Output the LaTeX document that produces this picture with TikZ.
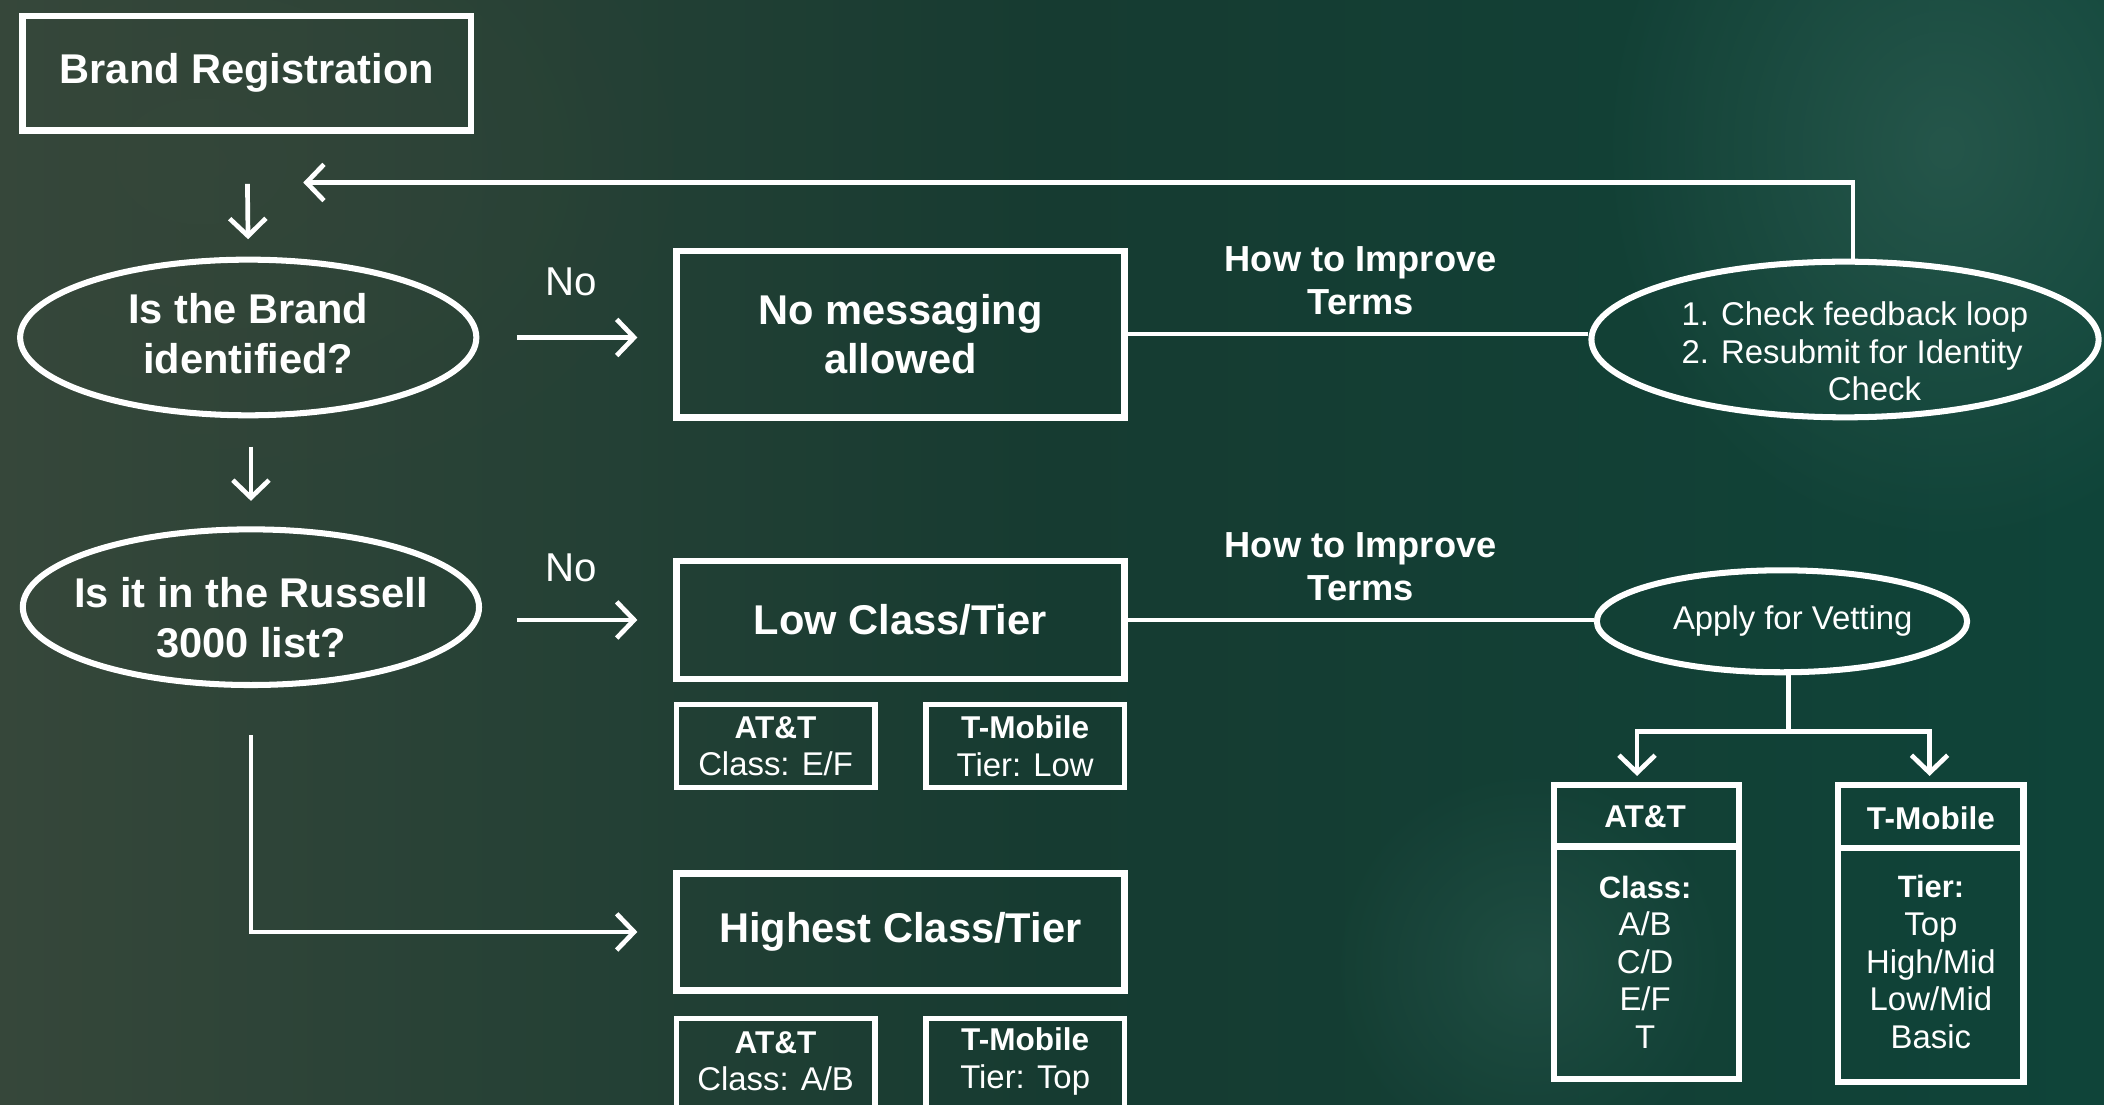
\documentclass[tikz,border=0pt]{standalone}
\usepackage{fontspec}
\setmainfont{Liberation Sans}
\usetikzlibrary{arrows.meta,shapes.geometric,fadings}
\definecolor{bgL}{HTML}{36473A}
\definecolor{bgM}{HTML}{163B31}
\definecolor{bgR}{HTML}{0F4439}
\definecolor{faceC}{HTML}{2E5E52}
\tikzfading[name=softblob, inner color=transparent!0, outer color=transparent!100]
\begin{document}
\begin{tikzpicture}[x=1pt,y=-1pt,
  box/.style={draw=white, line width=5pt, rectangle, inner sep=0pt, text=white, align=center,
              font=\bfseries\fontsize{31}{37}\selectfont},
  sbox/.style={draw=white, line width=4pt, rectangle, inner sep=0pt, text=white, align=center,
              minimum width=148pt, font=\fontsize{24.5}{28}\selectfont},
  tbox/.style={draw=white, line width=4.5pt, rectangle, inner sep=0pt, minimum width=138pt},
  ell/.style={draw=white, line width=4.5pt, ellipse, inner sep=0pt},
  bigtxt/.style={text=white, align=center, inner sep=0pt, font=\bfseries\fontsize{31}{37}\selectfont},
  regtxt/.style={text=white, align=center, inner sep=0pt, font=\fontsize{24.5}{28}\selectfont},
  lbl/.style={text=white, align=center, inner sep=0pt, font=\fontsize{30}{32}\selectfont},
  howlbl/.style={text=white, align=center, inner sep=0pt, font=\bfseries\fontsize{27}{32}\selectfont},
  conn/.style={draw=white, line width=3.5pt},
  arr/.style={-{Straight Barb[length=13pt,width=27pt]}},
]
\useasboundingbox (0,0) rectangle (1568,823);
\clip (0,0) rectangle (1568,823);
% background
\shade[left color=bgL, right color=bgR, middle color=bgM] (0,0) rectangle (1568,823);
\fill[faceC, opacity=0.7, path fading=softblob] (1450,110) ellipse [x radius=260, y radius=300];
\fill[faceC, opacity=0.45, path fading=softblob] (1140,720) ellipse [x radius=150, y radius=150];
\fill[bgL, opacity=0.6, path fading=softblob] (150,120) ellipse [x radius=380, y radius=280];

% top
\node[box, minimum width=334pt, minimum height=85pt] (brand) at (184,54.5) {Brand Registration};

\node[ell, minimum width=340pt, minimum height=116pt] (e1) at (185,251.5) {};
\node[bigtxt] (t1) at (185,248.5) {Is the Brand\\identified?};

\node[box, minimum width=334pt, minimum height=124pt] (nomsg) at (671,249) {No messaging\\allowed};

\node[ell, minimum width=378pt, minimum height=116pt] (e2) at (1375,253) {};
\node[regtxt, align=left, anchor=west] (t2) at (1253,262) {1. Check feedback loop\\2. Resubmit for Identity\\\hspace*{109pt}Check};

\node[howlbl] (how1) at (1014,209) {How to Improve\\Terms};
\node[lbl] (no1) at (426,210) {No};

\coordinate (loopEnd) at (226,136);

% middle
\node[ell, minimum width=340pt, minimum height=116pt] (e3) at (187,452.5) {};
\node[bigtxt] (t3) at (187,460.5) {Is it in the Russell\\3000 list?};

\node[box, minimum width=334pt, minimum height=88pt] (low) at (671,462) {Low Class/Tier};

\node[ell, minimum width=276pt, minimum height=76pt] (e4) at (1328,463) {};
\node[regtxt] (t4) at (1336,463) {Apply for Vetting};

\node[howlbl] (how2) at (1014,422) {How to Improve\\Terms};
\node[lbl] (no2) at (426,423) {No};

\node[sbox, minimum height=62pt] (lowatt) at (578,556) {{\bfseries\fontsize{23.5}{28}\selectfont AT\&T}\\Class: E/F};
\node[sbox, minimum height=62pt] (lowtm) at (764,556) {{\bfseries\fontsize{23.5}{28}\selectfont T-Mobile}\\Tier: Low};

% bottom
\node[box, minimum width=334pt, minimum height=87pt] (high) at (671,694.5) {Highest Class/Tier};
\node[sbox, minimum height=70pt] (hiatt) at (578,794) {};
\node[regtxt] (hiattT) at (578,791) {{\bfseries\fontsize{23.5}{28}\selectfont AT\&T}\\Class: A/B};
\node[sbox, minimum height=70pt] (hitm) at (764,794) {};
\node[regtxt] (hitmT) at (764,791) {{\bfseries\fontsize{23.5}{28}\selectfont T-Mobile}\\Tier: Top};

% tall boxes
\node[tbox, minimum height=219pt] (tA) at (1227,694.5) {};
\draw[white, line width=5pt] (1158,631) -- (1296,631);
\node[regtxt, font=\bfseries\fontsize{23.5}{28}\selectfont] (tAh) at (1226,609) {AT\&T};
\node[regtxt] (tAb) at (1226,717) {{\bfseries\fontsize{23}{28}\selectfont Class:}\\A/B\\C/D\\E/F\\T};

\node[tbox, minimum height=221pt] (tM) at (1439,695.5) {};
\draw[white, line width=5pt] (1370,632) -- (1508,632);
\node[regtxt, font=\bfseries\fontsize{23.5}{28}\selectfont] (tMh) at (1439,610) {T-Mobile};
\node[regtxt] (tMb) at (1439,717) {{\bfseries\fontsize{23}{28}\selectfont Tier:}\\Top\\High/Mid\\Low/Mid\\Basic};

% connectors
\draw[conn, arr, shorten <=37.5pt, shorten >=13pt] (brand.south) -- (e1.north);
\draw[conn, arr] ([xshift=6pt]e2.north) |- (loopEnd);
\draw[conn, arr, shorten <=28pt, shorten >=26.5pt] (e1.east) -- (e1.east -| nomsg.west);
\draw[conn] (nomsg.east) -- (nomsg.east -| e2.west);
\draw[conn, arr, shorten <=21pt, shorten >=19pt] (e1.south -| e3.north) -- (e3.north);
\draw[conn, arr, shorten <=26pt, shorten >=26.5pt] (e3.east |- low.west) -- (low.west);
\draw[conn] (low.east) -- (low.east -| e4.west);
\draw[conn, arr, shorten <=35pt, shorten >=26.5pt] (e3.south) |- (high.west);

\coordinate (vb) at (1333,545);
\coordinate (vL) at (1220,545);
\coordinate (vR) at (1438,545);
\draw[conn] ([xshift=5pt]e4.south) -- (vb);
\draw[conn, arr, shorten >=4.5pt] (vb) -- (vL) -- (vL |- tA.north);
\draw[conn, arr, shorten >=4.5pt] (vb) -- (vR) -- (vR |- tM.north);
\end{tikzpicture}
\end{document}
